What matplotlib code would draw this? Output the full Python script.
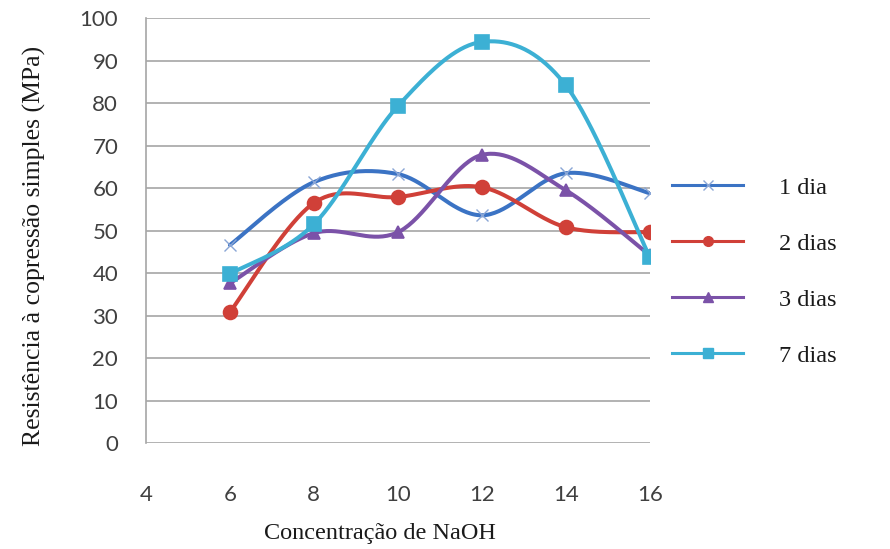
import numpy as np
import matplotlib
matplotlib.use("Agg")
import matplotlib.pyplot as plt
from matplotlib.lines import Line2D

# NaOH concentration and compressive strength (MPa) per curing age
concentracao = [6, 8, 10, 12, 14, 16]
dia1 = [46.6, 61.4, 63.3, 53.6, 63.5, 58.8]
dias2 = [30.8, 56.5, 57.9, 60.2, 50.8, 49.6]
dias3 = [37.6, 49.4, 49.6, 67.8, 59.5, 44.2]
dias7 = [39.8, 51.5, 79.3, 94.4, 84.2, 43.8]

series_labels = ["1 dia", "2 dias", "3 dias", "7 dias"]
x_ticks = [4, 6, 8, 10, 12, 14, 16]
y_ticks = list(range(0, 101, 10))

colors = ["#3b73c4", "#d04038", "#7b52a8", "#3cb0d4"]
markers = ["x", "o", "^", "s"]
msizes = [9, 10, 9, 10]


def smooth(x, y, n=40):
    """Cubic Bezier smoothing through every point (spreadsheet-style)."""
    x = np.asarray(x, float)
    y = np.asarray(y, float)
    px = np.concatenate([[x[0]], x, [x[-1]]])
    py = np.concatenate([[y[0]], y, [y[-1]]])
    xs, ys = [], []
    t = np.linspace(0, 1, n)
    for i in range(1, len(px) - 2):
        p0 = np.array([px[i], py[i]])
        p3 = np.array([px[i + 1], py[i + 1]])
        c1 = p0 + (np.array([px[i + 1], py[i + 1]]) - np.array([px[i - 1], py[i - 1]])) / 6
        c2 = p3 - (np.array([px[i + 2], py[i + 2]]) - np.array([px[i], py[i]])) / 6
        b = ((1 - t) ** 3)[:, None] * p0 + (3 * (1 - t) ** 2 * t)[:, None] * c1 \
            + (3 * (1 - t) * t ** 2)[:, None] * c2 + (t ** 3)[:, None] * p3
        xs.extend(b[:, 0])
        ys.extend(b[:, 1])
    return np.array(xs), np.array(ys)


fig = plt.figure(figsize=(8.9, 5.49), dpi=100)
ax = fig.add_axes([0.164, 0.193, 0.566, 0.774])

for vals, c, m, ms in zip([dia1, dias2, dias3, dias7], colors, markers, msizes):
    sx, sy = smooth(concentracao, vals)
    ax.plot(sx, sy, color=c, lw=2.9, solid_capstyle="round", zorder=3)
    ax.plot(concentracao, vals, linestyle="none", marker=m, color=c,
            markersize=ms, markeredgewidth=1.2 if m != "x" else 1.0,
            markeredgecolor=c if m != "x" else "#8aa6d6", zorder=4)

ax.set_xlim(4, 16)
ax.set_ylim(0, 100)
ax.set_xticks(x_ticks)
ax.set_yticks(y_ticks)
ax.yaxis.grid(True, color="#a6a6a6", lw=1.2)
ax.set_axisbelow(True)
for side in ["top", "right", "bottom"]:
    ax.spines[side].set_visible(False)
ax.spines["left"].set_color("#a6a6a6")
ax.spines["left"].set_linewidth(1.2)
ax.tick_params(axis="both", length=0, labelsize=16, colors="#404040")
ax.tick_params(axis="x", pad=30)
ax.tick_params(axis="y", pad=20)
for lbl in ax.get_xticklabels() + ax.get_yticklabels():
    lbl.set_fontfamily("Lato")

ax.set_xlabel("Concentração de NaOH", family="Liberation Serif", fontsize=17.5,
              color="#1a1a1a")
ax.set_ylabel("Resistência à copressão simples (MPa)", family="Liberation Serif",
              fontsize=18.5, color="#1a1a1a")
ax.xaxis.set_label_coords(0.464, -0.213)
ax.yaxis.set_label_coords(-0.222, 0.463)
ax.xaxis.label.set_verticalalignment("center")
ax.yaxis.label.set_verticalalignment("center")

handles = [Line2D([0], [0], color=c, lw=2.2, marker=m, markersize=7,
                  markeredgecolor=c if m != "x" else "#8aa6d6")
           for c, m in zip(colors, markers)]
leg = fig.legend(handles, series_labels, loc="upper left",
                 bbox_to_anchor=(0.731, 0.718), frameon=False,
                 handlelength=2.9, handletextpad=1.5, labelspacing=1.4,
                 prop={"family": "Liberation Serif", "size": 17.5})
for t in leg.get_texts():
    t.set_color("#1a1a1a")

fig.savefig("out.png", dpi=100)
